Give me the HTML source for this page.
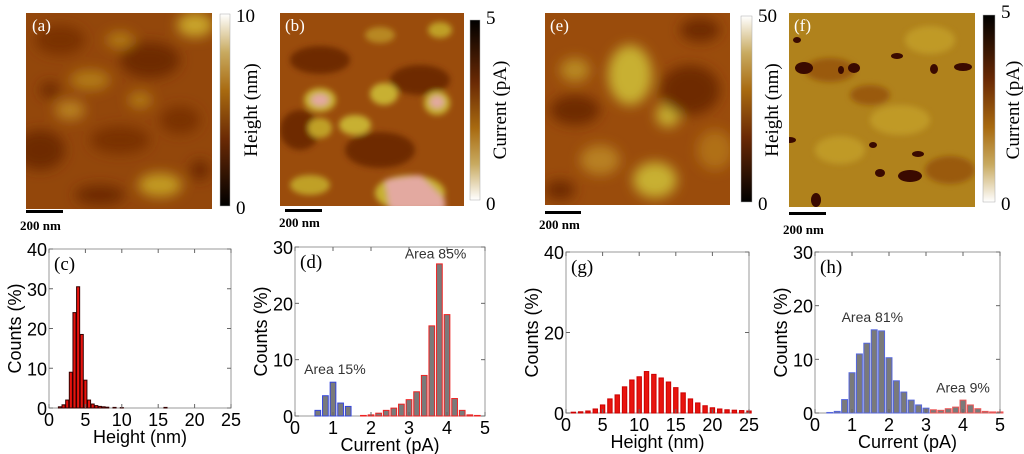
<!DOCTYPE html>
<html><head><meta charset="utf-8">
<style>
html,body{margin:0;padding:0;background:#fff;}
body{width:1024px;height:454px;overflow:hidden;position:relative;font-family:"Liberation Sans",sans-serif;}
svg{position:absolute;left:0;top:0;}
</style></head>
<body>
<svg id="fig" width="1024" height="454" viewBox="0 0 1024 454" xmlns="http://www.w3.org/2000/svg">
<defs>
<filter id="bl" x="-20%" y="-20%" width="140%" height="140%"><feGaussianBlur stdDeviation="6"/></filter>
<filter id="bl2" x="-20%" y="-20%" width="140%" height="140%"><feGaussianBlur stdDeviation="3"/></filter>
<linearGradient id="cbH" x1="0" y1="1" x2="0" y2="0">
<stop offset="0" stop-color="#000"/><stop offset="0.35" stop-color="#6b2a05"/><stop offset="0.6" stop-color="#a86a10"/><stop offset="0.8" stop-color="#c8aa60"/><stop offset="1" stop-color="#fff"/></linearGradient>
<linearGradient id="cbC" x1="0" y1="0" x2="0" y2="1">
<stop offset="0" stop-color="#000"/><stop offset="0.35" stop-color="#6b2a05"/><stop offset="0.6" stop-color="#a86a10"/><stop offset="0.8" stop-color="#c8aa60"/><stop offset="1" stop-color="#fff"/></linearGradient>
<clipPath id="ca"><rect x="26" y="13" width="186" height="196"/></clipPath>
<clipPath id="cb"><rect x="280" y="13" width="184" height="193"/></clipPath>
<clipPath id="ce"><rect x="545" y="13" width="185" height="192"/></clipPath>
<clipPath id="cf"><rect x="789" y="13" width="186" height="194"/></clipPath>
</defs>

<!-- image a -->
<g clip-path="url(#ca)">
<rect x="26" y="13" width="186" height="196" fill="#93470b"/>
<g filter="url(#bl)">
<ellipse cx="60" cy="40" rx="25" ry="15" fill="#7a3306"/><ellipse cx="150" cy="60" rx="30" ry="18" fill="#6e2b05"/>
<ellipse cx="195" cy="25" rx="18" ry="12" fill="#c9a52a"/><ellipse cx="90" cy="80" rx="20" ry="10" fill="#b27a18"/>
<ellipse cx="40" cy="150" rx="25" ry="20" fill="#6e2b05"/><ellipse cx="120" cy="140" rx="30" ry="14" fill="#7a3306"/>
<ellipse cx="160" cy="185" rx="22" ry="12" fill="#c29a22"/><ellipse cx="70" cy="110" rx="15" ry="10" fill="#b88020"/>
<ellipse cx="180" cy="120" rx="20" ry="14" fill="#7a3306"/><ellipse cx="100" cy="195" rx="25" ry="10" fill="#6e2b05"/>
<ellipse cx="140" cy="100" rx="12" ry="8" fill="#b27a18"/><ellipse cx="50" cy="90" rx="10" ry="8" fill="#6e2b05"/>
<ellipse cx="120" cy="40" rx="14" ry="8" fill="#b27a18"/><ellipse cx="200" cy="170" rx="10" ry="10" fill="#6e2b05"/>
</g></g>
<text x="32" y="31" font-family="Liberation Serif" font-size="17" fill="#fff">(a)</text>
<rect x="220" y="14" width="10" height="192" fill="url(#cbH)" stroke="#aaa" stroke-width="0.5"/>
<text x="236" y="22" font-family="Liberation Serif" font-size="19">10</text>
<text x="236" y="214" font-family="Liberation Serif" font-size="19">0</text>
<text transform="translate(257,110) rotate(-90)" text-anchor="middle" font-family="Liberation Serif" font-size="19">Height (nm)</text>
<rect x="26" y="210" width="37" height="3" fill="#000"/>
<text x="20" y="230" font-family="Liberation Serif" font-size="13" font-weight="bold">200 nm</text>

<!-- image b -->
<g clip-path="url(#cb)">
<rect x="280" y="13" width="184" height="193" fill="#9a4c0c"/>
<g filter="url(#bl2)">
<ellipse cx="320" cy="60" rx="30" ry="14" fill="#6e2b05"/><ellipse cx="420" cy="80" rx="30" ry="15" fill="#6e2b05"/>
<ellipse cx="380" cy="150" rx="35" ry="18" fill="#6e2b05"/><ellipse cx="300" cy="130" rx="20" ry="20" fill="#6e2b05"/>
<ellipse cx="320" cy="100" rx="16" ry="12" fill="#c8b030"/><ellipse cx="320" cy="100" rx="9" ry="6" fill="#e3a9a0"/>
<ellipse cx="384" cy="94" rx="14" ry="11" fill="#c8b030"/><ellipse cx="437" cy="103" rx="13" ry="12" fill="#c8b030"/><ellipse cx="437" cy="102" rx="7" ry="6" fill="#e3a9a0"/>
<ellipse cx="355" cy="125" rx="16" ry="10" fill="#c8b030"/><ellipse cx="320" cy="128" rx="12" ry="10" fill="#c0a028"/>
<ellipse cx="410" cy="193" rx="35" ry="18" fill="#c8b030"/><polygon points="385,180 420,175 445,200 445,210 390,210" fill="#e3a9a0"/>
<ellipse cx="310" cy="185" rx="20" ry="10" fill="#c0a028"/><ellipse cx="380" cy="35" rx="15" ry="8" fill="#b88820"/><ellipse cx="440" cy="30" rx="12" ry="8" fill="#c0a028"/>
</g></g>
<text x="285" y="31" font-family="Liberation Serif" font-size="17" fill="#fff">(b)</text>
<rect x="470" y="20" width="10" height="180" fill="url(#cbC)" stroke="#aaa" stroke-width="0.5"/>
<text x="486" y="24" font-family="Liberation Serif" font-size="19">5</text>
<text x="486" y="210" font-family="Liberation Serif" font-size="19">0</text>
<text transform="translate(506,110) rotate(-90)" text-anchor="middle" font-family="Liberation Serif" font-size="19">Current (pA)</text>
<rect x="285" y="209" width="37" height="3" fill="#000"/>
<text x="279" y="227" font-family="Liberation Serif" font-size="13" font-weight="bold">200 nm</text>

<!-- image e -->
<g clip-path="url(#ce)">
<rect x="545" y="13" width="185" height="192" fill="#9a4c0c"/>
<g filter="url(#bl)">
<ellipse cx="630" cy="75" rx="22" ry="30" fill="#c8b030"/><ellipse cx="668" cy="115" rx="12" ry="12" fill="#c8b030"/>
<ellipse cx="655" cy="180" rx="22" ry="18" fill="#c8b030"/><ellipse cx="575" cy="70" rx="15" ry="12" fill="#b88820"/>
<ellipse cx="690" cy="90" rx="30" ry="25" fill="#6e2b05"/><ellipse cx="575" cy="110" rx="25" ry="15" fill="#6e2b05"/>
<ellipse cx="600" cy="160" rx="20" ry="15" fill="#b88020"/><ellipse cx="715" cy="150" rx="18" ry="20" fill="#b07018"/>
<ellipse cx="560" cy="190" rx="15" ry="10" fill="#6e2b05"/><ellipse cx="700" cy="30" rx="20" ry="12" fill="#6e2b05"/>
</g></g>
<text x="550" y="31" font-family="Liberation Serif" font-size="17" fill="#fff">(e)</text>
<rect x="741" y="16" width="11" height="186" fill="url(#cbH)" stroke="#aaa" stroke-width="0.5"/>
<text x="758" y="22" font-family="Liberation Serif" font-size="19">50</text>
<text x="758" y="210" font-family="Liberation Serif" font-size="19">0</text>
<text transform="translate(778,110) rotate(-90)" text-anchor="middle" font-family="Liberation Serif" font-size="19">Height (nm)</text>
<rect x="545" y="211" width="36" height="3" fill="#000"/>
<text x="539" y="229" font-family="Liberation Serif" font-size="13" font-weight="bold">200 nm</text>

<!-- image f -->
<g clip-path="url(#cf)">
<rect x="789" y="13" width="186" height="194" fill="#b0821c"/>
<g filter="url(#bl2)">
<ellipse cx="830" cy="70" rx="25" ry="12" fill="#9a5a10"/><ellipse cx="900" cy="120" rx="30" ry="15" fill="#c09a28"/>
<ellipse cx="950" cy="170" rx="25" ry="14" fill="#9a5a10"/><ellipse cx="840" cy="150" rx="25" ry="14" fill="#c09a28"/>
<ellipse cx="930" cy="40" rx="25" ry="14" fill="#c09a28"/><ellipse cx="870" cy="95" rx="20" ry="10" fill="#9a5a10"/>
</g>
<g fill="#3a0a00">
<ellipse cx="804" cy="68" rx="9" ry="6"/><ellipse cx="854" cy="68" rx="6" ry="5"/><ellipse cx="841" cy="70" rx="3" ry="4"/>
<ellipse cx="897" cy="56" rx="6" ry="3"/><ellipse cx="963" cy="67" rx="9" ry="4"/><ellipse cx="934" cy="69" rx="4" ry="5"/>
<ellipse cx="910" cy="176" rx="12" ry="6"/><ellipse cx="880" cy="173" rx="5" ry="4"/><ellipse cx="816" cy="200" rx="5" ry="7"/>
<ellipse cx="790" cy="140" rx="6" ry="3"/><ellipse cx="918" cy="154" rx="6" ry="3"/><ellipse cx="873" cy="145" rx="4" ry="3"/><ellipse cx="797" cy="40" rx="4" ry="3"/>
</g></g>
<text x="794" y="31" font-family="Liberation Serif" font-size="17" fill="#fff">(f)</text>
<rect x="983" y="15" width="12" height="187" fill="url(#cbC)" stroke="#aaa" stroke-width="0.5"/>
<text x="1001" y="18" font-family="Liberation Serif" font-size="19">5</text>
<text x="1001" y="210" font-family="Liberation Serif" font-size="19">0</text>
<text transform="translate(1019,110) rotate(-90)" text-anchor="middle" font-family="Liberation Serif" font-size="19">Current (pA)</text>
<rect x="789" y="212" width="37" height="3" fill="#000"/>
<text x="783" y="234" font-family="Liberation Serif" font-size="13" font-weight="bold">200 nm</text>

<g id="charts"></g>
</svg>
<script>
// chart c: height histogram (bin centres / counts %)
const cBins = [1.5,2,2.5,3,3.5,4,4.5,5,5.5,6,6.5,7,7.5,8,9,10,16];
const cVals = [0.3,0.8,2,9,24,30.5,18.5,7,2,1,0.6,0.4,0.3,0.2,0.15,0.1,0.15];
const cXTicks = [0,5,10,15,20,25];
const cYTicks = [0,10,20,30,40];
// chart d: current histogram
const dBinsLow = [0.6,0.8,1.0,1.2,1.4];
const dValsLow = [1,3.6,6,2.3,1.7];
const dBinsHigh = [1.8,2.0,2.2,2.4,2.6,2.8,3.0,3.2,3.4,3.6,3.8,4.0,4.2,4.4,4.6,4.8];
const dValsHigh = [0.1,0.2,0.5,1,1.4,2.1,2.9,4.3,7.2,16,27,18,3.1,1,0.2,0.1];
const dXTicks = [0,1,2,3,4,5];
const dYTicks = [0,10,20,30];
// chart g: height histogram
const gBins = [1,2,3,4,5,6,7,8,9,10,11,12,13,14,15,16,17,18,19,20,21,22,23,24,25];
const gVals = [0.2,0.3,0.5,1,2,3.5,4.5,6.5,8.2,9,10.3,9.6,8.7,7.7,6.3,5,3.5,2.5,1.8,1.3,1,0.8,0.7,0.6,0.5];
const gXTicks = [0,5,10,15,20,25];
const gYTicks = [0,20,40];
// chart h: current histogram
const hBinsLow = [0.4,0.6,0.8,1.0,1.2,1.4,1.6,1.8,2.0,2.2,2.4,2.6,2.8,3.0];
const hValsLow = [0.1,0.3,2.5,7.5,11,13,15.5,15.3,10.3,6,3.9,2.4,1.5,0.9];
const hBinsHigh = [3.2,3.4,3.6,3.8,4.0,4.2,4.4,4.6,4.8,5.0];
const hValsHigh = [0.6,0.5,0.8,1.1,2.4,1.5,0.8,0.3,0.2,0.2];

const NS='http://www.w3.org/2000/svg';
const root=document.getElementById('charts');
function mk(tag,attrs,parent){const e=document.createElementNS(NS,tag);for(const k in attrs)e.setAttribute(k,attrs[k]);(parent||root).appendChild(e);return e;}

function chart(o){
  const g=mk('g',{});
  
  
  const sx=v=>o.x0+(v-o.xmin)/(o.xmax-o.xmin)*(o.x1-o.x0);
  const sy=v=>o.y0-(v/o.ymax)*(o.y0-o.y1);
  const frame=mk('rect',{x:o.x0,y:o.y1,width:o.x1-o.x0,height:o.y0-o.y1,fill:'none',stroke:'#999','stroke-width':1},g);
  
  
  o.series.forEach(s=>{
    s.bins.forEach((b,i)=>{
      const w=(sx(s.w)-sx(0));
      const r=mk('rect',{x:sx(b)-w/2,y:sy(s.vals[i]),width:w,height:sy(0)-sy(s.vals[i]),fill:s.fill,stroke:s.stroke,'stroke-width':1},g);
      
      
    });
  });
  o.xt.forEach(t=>{
    mk('line',{x1:sx(t),x2:sx(t),y1:o.y0,y2:o.y0-4,stroke:'#666'},g);
    mk('line',{x1:sx(t),x2:sx(t),y1:o.y1,y2:o.y1+4,stroke:'#666'},g);
    const tx=mk('text',{x:sx(t),y:o.y0+18,'text-anchor':'middle','font-size':18},g);
    tx.textContent=t;
    
    
  });
  o.yt.forEach(t=>{
    mk('line',{x1:o.x0,x2:o.x0+4,y1:sy(t),y2:sy(t),stroke:'#666'},g);
    mk('line',{x1:o.x1,x2:o.x1-4,y1:sy(t),y2:sy(t),stroke:'#666'},g);
    const tx=mk('text',{x:o.x0-2,y:sy(t)+7,'text-anchor':'end','font-size':18},g);
    tx.textContent=t;
    
    
  });
  const xl=mk('text',{x:(o.x0+o.x1)/2,y:o.y0+35,'text-anchor':'middle','font-size':18},g);
  xl.textContent=o.xlabel;
  
  
  const yl=mk('text',{transform:`translate(${o.x0-28},${(o.y0+o.y1)/2}) rotate(-90)`,'text-anchor':'middle','font-size':18},g);
  yl.textContent='Counts (%)';
  
  
  const pl=mk('text',{x:o.x0+5,y:o.y1+21,'font-family':'Liberation Serif','font-size':19},g);
  pl.textContent=o.panel;
  
  
  (o.notes||[]).forEach(n=>{
    const t=mk('text',{x:sx(n.x),y:sy(n.y),'text-anchor':'middle','font-size':14,fill:'#333'},g);
    t.textContent=n.t;
    
    
  });
}
chart({name:'histogram-c',panel:'(c)',x0:49,x1:231,y0:408,y1:249,xmin:0,xmax:25,ymax:40,xt:cXTicks,yt:cYTicks,xlabel:'Height (nm)',
  series:[{bins:cBins,vals:cVals,w:0.42,fill:'#e8140e',stroke:'#300'}]});
chart({name:'histogram-d',panel:'(d)',x0:295,x1:485,y0:416,y1:247,xmin:0,xmax:5,ymax:30,xt:dXTicks,yt:dYTicks,xlabel:'Current (pA)',
  series:[{bins:dBinsLow,vals:dValsLow,w:0.15,fill:'#7a7a7a',stroke:'#3344dd'},{bins:dBinsHigh,vals:dValsHigh,w:0.15,fill:'#7a7a7a',stroke:'#ee2222'}],
  notes:[{x:1.05,y:7.5,t:'Area 15%'},{x:3.7,y:28,t:'Area 85%'}]});
chart({name:'histogram-g',panel:'(g)',x0:566,x1:749,y0:413,y1:252,xmin:0,xmax:25,ymax:40,xt:gXTicks,yt:gYTicks,xlabel:'Height (nm)',
  series:[{bins:gBins,vals:gVals,w:0.6,fill:'#e8140e',stroke:'#c00'}]});
chart({name:'histogram-h',panel:'(h)',x0:815,x1:1000,y0:413,y1:252,xmin:0,xmax:5,ymax:30,xt:dXTicks,yt:dYTicks,xlabel:'Current (pA)',
  series:[{bins:hBinsLow,vals:hValsLow,w:0.16,fill:'#7a7a7a',stroke:'#5566dd'},{bins:hBinsHigh,vals:hValsHigh,w:0.16,fill:'#7a7a7a',stroke:'#ee5555'}],
  notes:[{x:1.55,y:17,t:'Area 81%'},{x:4.0,y:3.8,t:'Area 9%'}]});
</script>
</body></html>
